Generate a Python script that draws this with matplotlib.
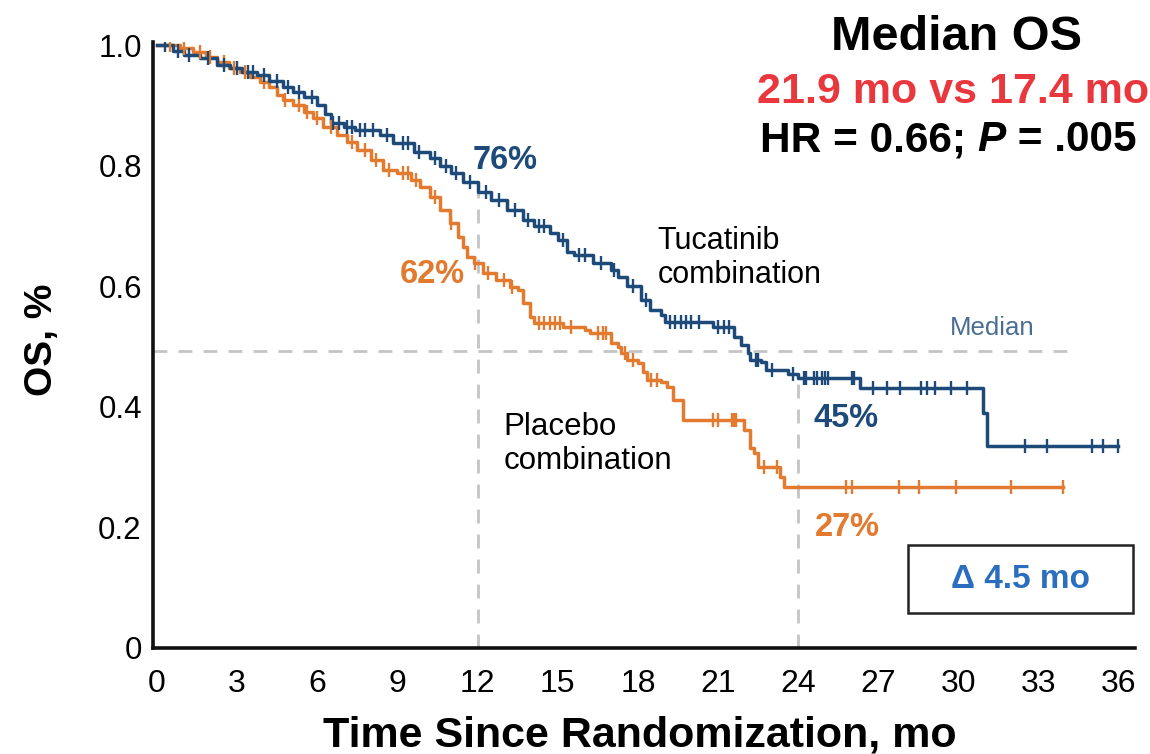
import numpy as np
import matplotlib.pyplot as plt
from matplotlib.patches import Rectangle

# Kaplan-Meier step data (months, survival)
tuc_t = [0, 0.6, 1.0, 1.6, 2.25, 2.75, 3.2, 3.75, 4.2, 4.7, 5.1, 5.5, 6.0, 6.3, 6.5,
         7.0, 7.4, 8.35, 8.85, 9.6, 10.2, 10.6, 11.0, 11.45, 12.0, 12.5, 13.1, 13.7,
         14.1, 14.7, 15.0, 15.35, 15.6, 16.3, 17.0, 17.25, 17.6, 18.1, 18.45, 18.85,
         19.0, 20.8, 21.6, 21.85, 22.1, 22.2, 22.6, 22.8, 23.6, 24.0, 26.3, 30.9, 31.05]
tuc_s = [1.0, 0.99, 0.983, 0.978, 0.967, 0.962, 0.955, 0.95, 0.94, 0.93, 0.922, 0.914,
         0.90, 0.885, 0.871, 0.864, 0.859, 0.851, 0.837, 0.823, 0.813, 0.80, 0.788,
         0.773, 0.756, 0.743, 0.726, 0.71, 0.70, 0.688, 0.677, 0.657, 0.652, 0.638,
         0.627, 0.615, 0.60, 0.577, 0.56, 0.552, 0.541, 0.532, 0.515, 0.502, 0.489,
         0.478, 0.474, 0.461, 0.454, 0.447, 0.431, 0.39, 0.335]
tuc_end = 35.95
tuc_cens = [0.3, 0.8, 1.2, 1.9, 2.5, 3.0, 3.4, 3.6, 4.0, 4.5, 4.9, 5.3, 5.8, 6.6, 6.8,
            7.1, 7.3, 7.6, 7.8, 8.1, 8.6, 9.2, 9.4, 9.8, 10.4, 10.8, 11.2, 11.7, 12.3,
            12.8, 13.4, 13.9, 14.3, 14.5, 15.2, 15.8, 16.0, 16.6, 17.1, 17.8, 18.3,
            19.2, 19.4, 19.6, 19.8, 20.0, 20.3, 21.0, 21.2, 21.4, 22.4, 22.5, 23.0,
            23.8, 24.2, 24.3, 24.6, 24.7, 24.9, 25.0, 25.1, 26.0, 26.1, 26.8, 27.3,
            27.8, 28.6, 28.8, 29.1, 29.7, 30.3, 32.5, 33.3, 35.0, 35.4, 35.95]

pbo_t = [0, 0.85, 1.35, 1.85, 2.25, 2.7, 3.1, 3.5, 3.85, 4.2, 4.5, 4.7, 5.1, 5.5, 5.85,
         6.2, 6.75, 7.1, 7.5, 8.0, 8.45, 9.0, 9.5, 9.85, 10.2, 10.6, 10.95, 11.25, 11.45,
         11.6, 11.85, 12.2, 12.7, 13.2, 13.5, 13.7, 13.95, 14.1, 15.2, 16.0, 16.2, 17.0,
         17.25, 17.35, 17.6, 18.0, 18.2, 18.35, 18.85, 19.1, 19.3, 19.7, 21.95, 22.2,
         22.35, 22.5, 23.3, 23.45]
pbo_s = [1.0, 0.995, 0.988, 0.98, 0.972, 0.962, 0.955, 0.947, 0.939, 0.93, 0.917, 0.909,
         0.90, 0.889, 0.879, 0.864, 0.851, 0.839, 0.826, 0.809, 0.793, 0.788, 0.776,
         0.765, 0.748, 0.726, 0.705, 0.682, 0.665, 0.648, 0.638, 0.622, 0.61, 0.599,
         0.594, 0.572, 0.549, 0.539, 0.532, 0.527, 0.522, 0.506, 0.50, 0.489, 0.478,
         0.473, 0.458, 0.444, 0.441, 0.433, 0.411, 0.378, 0.362, 0.332, 0.323, 0.30,
         0.284, 0.267]
pbo_end = 33.9
pbo_cens = [0.5, 1.0, 1.6, 2.0, 2.5, 2.9, 3.3, 4.0, 4.8, 5.3, 5.6, 6.0, 6.5, 7.3, 7.8,
            8.2, 8.7, 9.2, 9.4, 9.7, 10.4, 11.0, 11.9, 12.4, 13.0, 13.3, 14.3, 14.5,
            14.7, 14.9, 15.1, 15.5, 16.5, 16.7, 16.8, 17.5, 17.8, 18.5, 18.7, 20.8,
            21.0, 21.5, 21.6, 21.65, 22.7, 23.2, 25.8, 26.0, 27.75, 28.5, 29.9, 31.95,
            33.9]

x_ticks = [0, 3, 6, 9, 12, 15, 18, 21, 24, 27, 30, 33, 36]
y_ticks = [0, 0.2, 0.4, 0.6, 0.8, 1.0]
y_ticklabels = ['0', '0.2', '0.4', '0.6', '0.8', '1.0']

landmarks = [12, 24]
landmark_tops = [0.768, 0.453]
median_level = 0.493

blue = '#1d4a78'
orange = '#e27b2f'
red = '#e8383d'
grey = '#c4c4c4'

plt.rcParams['font.family'] = ['Liberation Sans', 'DejaVu Sans']

fig = plt.figure(figsize=(11.5, 7.54), dpi=100)
ax = fig.add_axes([0.133, 0.1406, 0.854, 0.8037])


def km(ax, t, s, end, cens, color):
    tt = list(t) + [end]
    ss = list(s) + [s[-1]]
    ax.step(tt, ss, where='post', color=color, lw=2.5, zorder=3)
    idx = np.searchsorted(t, cens, side='right') - 1
    cy = np.array(s)[idx]
    ax.plot(cens, cy, ls='none', marker='|', ms=10, mew=1.7, color=color, zorder=4)


# reference lines
ax.axhline(median_level, xmin=0, xmax=(34.4 + 0.15) / 36.75, color=grey, lw=2,
           ls=(0, (5, 4)), zorder=1)
for x, top in zip(landmarks, landmark_tops):
    ax.plot([x, x], [0, top], color=grey, lw=2, ls=(0, (5, 4)), zorder=1)

km(ax, pbo_t, pbo_s, pbo_end, pbo_cens, orange)
km(ax, tuc_t, tuc_s, tuc_end, tuc_cens, blue)

ax.set_xlim(-0.15, 36.6)
ax.set_ylim(0, 1.005)
ax.set_xticks(x_ticks)
ax.set_xticklabels([str(v) for v in x_ticks], fontsize=23)
ax.set_yticks(y_ticks)
ax.set_yticklabels(y_ticklabels, fontsize=22.5)
ax.tick_params(length=0)
ax.tick_params(axis='y', pad=8)
ax.tick_params(axis='x', pad=15)

for side in ['top', 'right']:
    ax.spines[side].set_visible(False)
for side in ['left', 'bottom']:
    ax.spines[side].set_linewidth(2.6)
    ax.spines[side].set_color('#111111')

ax.set_xlabel('Time Since Randomization, mo', fontsize=31, fontweight='bold')
ax.xaxis.set_label_coords(0.496, -0.112)
ax.xaxis.label.set_va('top')
ax.set_ylabel('OS, %', fontsize=28, fontweight='bold')
ax.yaxis.set_label_coords(-0.095, 0.508)

# header
ax.text(29.9, 1.012, 'Median OS', fontsize=35, fontweight='bold', ha='center',
        va='center', clip_on=False)
ax.text(29.8, 0.922, '21.9 mo vs 17.4 mo', fontsize=31, fontweight='bold', color=red,
        ha='center', va='center')
t1 = ax.text(22.55, 0.842, 'HR = 0.66; ', fontsize=30.5, fontweight='bold',
             ha='left', va='center')
t2 = ax.annotate('P', xy=(1, 0), xycoords=t1, fontsize=30.5, fontweight='bold',
                 fontstyle='italic', ha='left', va='bottom')
ax.annotate(' = .005', xy=(1, 0), xycoords=t2, fontsize=30.5, fontweight='bold',
            ha='left', va='bottom')

# landmark labels
ax.text(13.03, 0.809, '76%', fontsize=23.5, fontweight='bold', color=blue,
        ha='center', va='center')
ax.text(10.3, 0.619, '62%', fontsize=23.5, fontweight='bold', color=orange,
        ha='center', va='center')
ax.text(25.77, 0.381, '45%', fontsize=23.5, fontweight='bold', color=blue,
        ha='center', va='center')
ax.text(25.84, 0.199, '27%', fontsize=23.5, fontweight='bold', color=orange,
        ha='center', va='center')

ax.text(18.73, 0.647, 'Tucatinib\ncombination', fontsize=22, ha='left', va='center',
        linespacing=1.15)
ax.text(12.96, 0.338, 'Placebo\ncombination', fontsize=22.5, ha='left', va='center',
        linespacing=1.15)
ax.text(31.27, 0.531, 'Median', fontsize=18.5, color='#4a6e92', ha='center', va='center')

ax.add_patch(Rectangle((0.769, 0.0578), 0.229, 0.112, transform=ax.transAxes,
                       fill=False, ec='#222222', lw=1.8, clip_on=False))
ax.text(0.8835, 0.1138, '\u0394 4.5 mo', transform=ax.transAxes, fontsize=24,
        fontweight='bold', color='#2a6ebd', ha='center', va='center')

fig.savefig('out.png', dpi=100)
